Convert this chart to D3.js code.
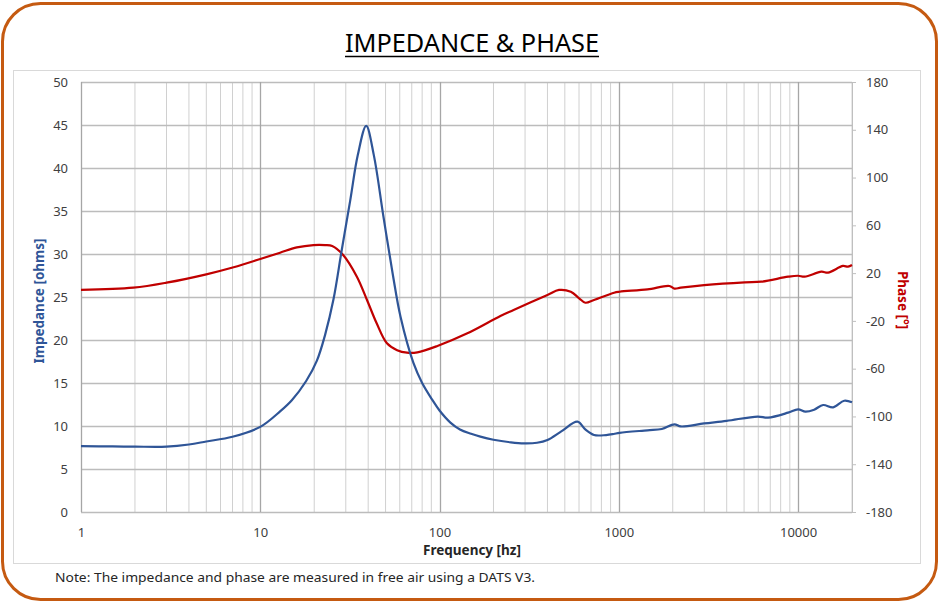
<!DOCTYPE html>
<html>
<head>
<meta charset="utf-8">
<script src="https://cdn.jsdelivr.net/npm/d3@7"></script>
<style>
  body { margin: 0; background: #fff; }
  text { font-family: "Noto Sans", "Open Sans", sans-serif; }
</style>
</head>
<body>
<div id="main"></div>
<script>
const W = 940, H = 603;
const margin = {left: 81, top: 82, right: 88, bottom: 91};

// impedance curve [hz, ohms]
const impFreq = [1, 1.5, 2, 3, 4, 5, 7, 10, 12.9, 15, 18, 20.7, 23, 25.6, 28.5, 31.8, 35, 39, 43, 48.7,
  55, 60.6, 71.6, 80, 91.4, 100, 115, 130, 150, 169, 200, 250, 296, 350, 400, 480, 588, 650, 728, 850, 937,
  1010, 1446, 1738, 2044, 2216, 2993, 4000, 5960, 6800, 8805, 10000, 11000, 12300, 13800, 15700, 18100, 20000];
const impVal = [7.65, 7.62, 7.6, 7.6, 7.85, 8.2, 8.75, 9.9, 11.7, 13.0, 15.2, 17.6, 20.6, 24.7, 30.5, 36.3, 41.5, 44.9, 41.5, 34.3,
  27.5, 22.7, 17.3, 15.0, 13.0, 11.8, 10.4, 9.6, 9.1, 8.76, 8.4, 8.1, 7.98, 8.05, 8.37, 9.4, 10.5, 9.6, 8.95, 8.95, 9.07,
  9.2, 9.5, 9.65, 10.2, 9.95, 10.3, 10.6, 11.1, 10.97, 11.55, 11.94, 11.67, 11.9, 12.44, 12.17, 12.94, 12.75];

// phase curve [hz, degrees]
const phFreq = [1, 1.96, 3, 5, 7.1, 10, 12.9, 16, 19.8, 23, 25.2, 29, 34.6, 39.4, 44.6, 50.9, 58, 65.8, 75.2, 97.3,
  143, 218.6, 259, 400, 464, 540, 601, 651, 728, 942, 1010, 1446, 1915, 2045, 2216, 2993, 5040, 6236, 8805, 10000,
  10890, 13500, 14700, 17800, 19000, 20000];
const phVal = [5.9, 7.8, 12, 19, 24.9, 31.8, 37.1, 41.5, 43.5, 43.5, 42.7, 35.2, 17, -2.5, -22, -38.8, -44.5, -46.6, -46.3, -41,
  -30.4, -15.9, -10.9, 1.7, 5.9, 4.4, -1.1, -4.8, -2.5, 3.6, 4.4, 6.4, 9.2, 7.0, 7.8, 10, 12.3, 12.8, 17, 17.8,
  17, 21.2, 20.4, 26, 25.4, 26.8];

const xTicks = [1, 10, 100, 1000, 10000];
const impTicks = d3.range(0, 51, 5);
const phTicks = d3.range(-180, 181, 40);

const svg = d3.select("#main").append("svg").attr("width", W).attr("height", H);
const iw = W - margin.left - margin.right, ih = H - margin.top - margin.bottom;

const x = d3.scaleLog().domain([1, 20000]).range([margin.left, margin.left + iw]);
const yL = d3.scaleLinear().domain([0, 50]).range([margin.top + ih, margin.top]);
const yR = d3.scaleLinear().domain([-180, 180]).range([margin.top + ih, margin.top]);

// frames
svg.append("rect").attr("x", 2.5).attr("y", 3.5).attr("width", 934).attr("height", 596)
  .attr("rx", 38).attr("fill", "#fff").attr("stroke", "#c55a11").attr("stroke-width", 3);
svg.append("rect").attr("x", 13.5).attr("y", 70.5).attr("width", 907).attr("height", 493)
  .attr("fill", "none").attr("stroke", "#d9d9d9");

// title
svg.append("text").attr("x", 472).attr("y", 52).attr("text-anchor", "middle")
  .attr("font-size", 26).attr("textLength", 254).attr("lengthAdjust", "spacingAndGlyphs")
  .text("IMPEDANCE & PHASE");
svg.append("line").attr("x1", 345).attr("x2", 599).attr("y1", 56.5).attr("y2", 56.5)
  .attr("stroke", "#000").attr("stroke-width", 1.6);

// grid
let minor = [];
for (let d = 1; d <= 10000; d *= 10) for (let k = 2; k <= 9; k++) if (d * k < 20000) minor.push(d * k);
minor.push(20000);
const grid = svg.append("g");
grid.selectAll(".minor").data(minor).join("line")
  .attr("x1", d => x(d)).attr("x2", d => x(d)).attr("y1", margin.top).attr("y2", margin.top + ih)
  .attr("stroke", "#d0d0d0").attr("stroke-width", 1);
grid.selectAll(".hz").data(impTicks).join("line")
  .attr("x1", margin.left).attr("x2", margin.left + iw).attr("y1", d => Math.round(yL(d)) + 0.5).attr("y2", d => Math.round(yL(d)) + 0.5)
  .attr("stroke", "#bcbcbc").attr("stroke-width", 1.3);
grid.selectAll(".major").data(xTicks).join("line")
  .attr("x1", d => Math.round(x(d)) + 0.5).attr("x2", d => Math.round(x(d)) + 0.5).attr("y1", margin.top).attr("y2", margin.top + ih)
  .attr("stroke", "#a6a6a6").attr("stroke-width", 1.3);

// axes
const axL = svg.append("g").attr("transform", `translate(${margin.left - 13},0)`)
  .call(d3.axisLeft(yL).tickValues(impTicks).tickSize(0).tickPadding(0));
const axR = svg.append("g").attr("transform", `translate(${margin.left + iw},0)`)
  .call(d3.axisRight(yR).tickValues(phTicks).tickFormat(d => String(d)).tickSize(4).tickPadding(10));
const axB = svg.append("g").attr("transform", `translate(0,${margin.top + ih + 12})`)
  .call(d3.axisBottom(x).tickValues(xTicks).tickFormat(d => String(d)).tickSize(0).tickPadding(4));
[axL, axR, axB].forEach(a => {
  a.select(".domain").remove();
  a.selectAll("text").attr("font-size", 13).attr("fill", "#404040")
    .attr("font-family", "Noto Sans, sans-serif");
});
axR.selectAll("line").attr("stroke", "#bfbfbf");
svg.append("line").attr("x1", margin.left + iw + 0.5).attr("x2", margin.left + iw + 0.5)
  .attr("y1", margin.top).attr("y2", margin.top + ih).attr("stroke", "#bfbfbf");

// axis titles
svg.append("text").attr("x", 472).attr("y", 555).attr("text-anchor", "middle")
  .attr("font-size", 13.5).attr("font-weight", "bold").attr("fill", "#262626").text("Frequency [hz]");
svg.append("text").attr("transform", "translate(44,301) rotate(-90)").attr("text-anchor", "middle")
  .attr("font-size", 13.5).attr("font-weight", "bold").attr("fill", "#2f5597").text("Impedance [ohms]");
svg.append("text").attr("transform", "translate(898,300) rotate(90)").attr("text-anchor", "middle")
  .attr("font-size", 13.5).attr("font-weight", "bold").attr("fill", "#c00000").text("Phase [°]");

// note
svg.append("text").attr("x", 55).attr("y", 582).attr("font-size", 13).attr("fill", "#262626")
  .attr("textLength", 480).attr("lengthAdjust", "spacingAndGlyphs")
  .text("Note: The impedance and phase are measured in free air using a DATS V3.");

// series
const impData = impFreq.map((f, i) => [f, impVal[i]]);
const phData = phFreq.map((f, i) => [f, phVal[i]]);
const curve = d3.curveCatmullRom.alpha(0.5);
svg.append("path").datum(phData)
  .attr("fill", "none").attr("stroke", "#c00000").attr("stroke-width", 2.2).attr("stroke-linejoin", "round")
  .attr("d", d3.line().curve(curve).x(d => x(d[0])).y(d => yR(d[1])));
svg.append("path").datum(impData)
  .attr("fill", "none").attr("stroke", "#2f5597").attr("stroke-width", 2.2).attr("stroke-linejoin", "round")
  .attr("d", d3.line().curve(curve).x(d => x(d[0])).y(d => yL(d[1])));
</script>
</body>
</html>
